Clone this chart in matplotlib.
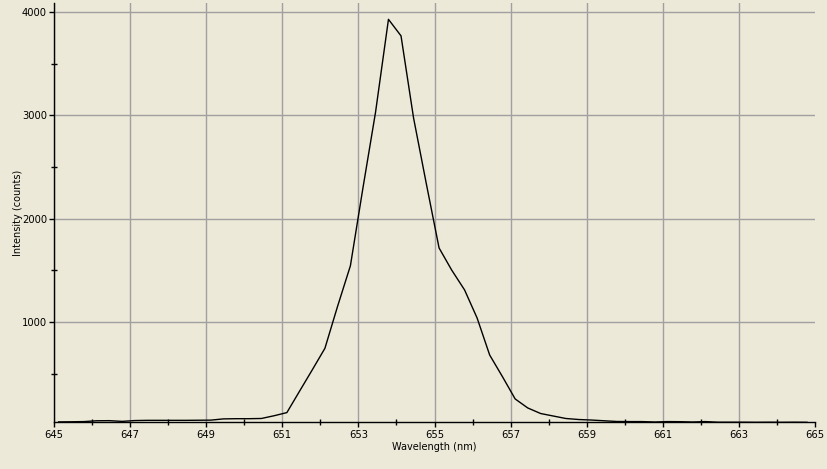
import matplotlib
matplotlib.use('Agg')
import matplotlib.pyplot as plt
from matplotlib.ticker import MultipleLocator

# Spectrum samples (nm, counts)
wavelength = [645.12, 645.45, 645.79, 646.12, 646.45, 646.79, 647.12, 647.45, 647.79, 648.12,
              648.45, 648.79, 649.12, 649.45, 649.79, 650.12, 650.45, 650.79, 651.12, 651.45,
              651.79, 652.12, 652.45, 652.79, 653.12, 653.45, 653.79, 654.12, 654.45, 654.79,
              655.12, 655.45, 655.79, 656.12, 656.45, 656.79, 657.12, 657.45, 657.79, 658.12,
              658.45, 658.79, 659.12, 659.45, 659.79, 660.12, 660.45, 660.79, 661.12, 661.45,
              661.79, 662.12, 662.45, 662.79, 663.12, 663.45, 663.79, 664.12, 664.45, 664.79]
counts = [35, 36, 38, 46, 47, 40, 48, 50, 50, 50,
          50, 51, 52, 64, 66, 66, 68, 95, 125, 330,
          540, 747, 1150, 1546, 2300, 3030, 3930, 3770, 2975, 2330,
          1718, 1505, 1312, 1040, 682, 470, 257, 170, 116, 92,
          68, 58, 53, 46, 39, 38, 38, 34, 38, 37,
          34, 38, 32, 32, 32, 31, 32, 31, 32, 31]

x_ticks = [645, 647, 649, 651, 653, 655, 657, 659, 661, 663, 665]
y_ticks = [1000, 2000, 3000, 4000]

bg = '#ECE9D8'
plt.rcParams['font.family'] = ['DejaVu Sans']

fig = plt.figure(figsize=(8.27, 4.69), dpi=100, facecolor=bg)
ax = fig.add_axes([54 / 827, 47 / 469, 761 / 827, 419 / 469], facecolor=bg)

ax.plot(wavelength, counts, color='black', linewidth=1.0, zorder=3)

ax.set_xlim(645, 665)
ax.set_ylim(34, 4088)

ax.set_xticks(x_ticks)
ax.xaxis.set_minor_locator(MultipleLocator(1))
ax.set_yticks(y_ticks)
ax.yaxis.set_minor_locator(MultipleLocator(500))

ax.grid(True, which='major', color='#A0A0A0', linewidth=1.0)
ax.set_axisbelow(True)
# no vertical grid line on the right edge
ax.xaxis.get_gridlines()[-1].set_visible(False)

for s in ['top', 'right']:
    ax.spines[s].set_visible(False)
for s in ['left', 'bottom']:
    ax.spines[s].set_color('black')
    ax.spines[s].set_linewidth(1.0)
    ax.spines[s].set_zorder(4)

ax.tick_params(which='both', direction='inout', length=5, width=1, color='black',
               labelsize=7.2, pad=2)
ax.tick_params(axis='y', which='major', direction='out', length=3.5, pad=1.5)
ax.tick_params(axis='x', which='major', direction='out', length=3.5, pad=2)

ax.set_xlabel('Wavelength (nm)', fontsize=7, labelpad=2)
ax.set_ylabel('Intensity (counts)', fontsize=7, labelpad=-1)

fig.savefig('out.png', dpi=100, facecolor=bg)
